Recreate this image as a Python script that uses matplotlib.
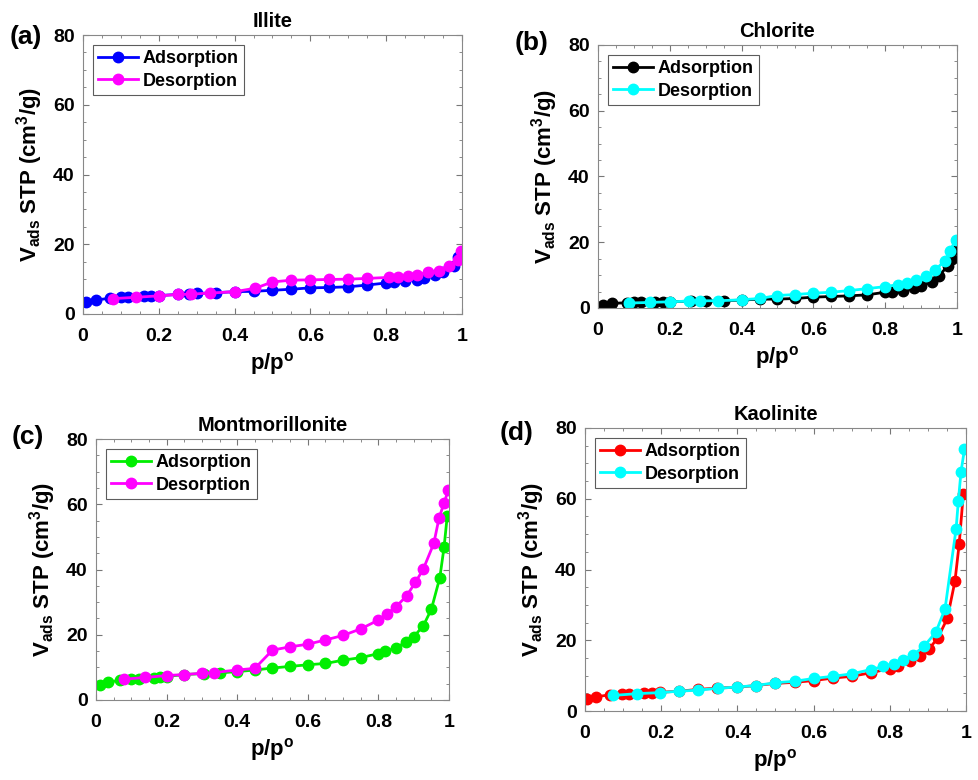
import matplotlib
matplotlib.use('Agg')
import matplotlib.pyplot as plt
from matplotlib.ticker import MultipleLocator

plt.rcParams['font.family'] = ['Liberation Sans', 'DejaVu Sans']
plt.rcParams['font.weight'] = 'bold'
plt.rcParams['mathtext.fontset'] = 'custom'
plt.rcParams['mathtext.rm'] = 'Liberation Sans:bold'
plt.rcParams['mathtext.bf'] = 'Liberation Sans:bold'
plt.rcParams['mathtext.it'] = 'Liberation Sans:bold'
plt.rcParams['mathtext.default'] = 'bf'

# Illite
ill_ads_x = [0.009, 0.033, 0.07, 0.10, 0.12, 0.16, 0.18, 0.20, 0.25, 0.28, 0.30, 0.35, 0.40, 0.45,
             0.50, 0.55, 0.60, 0.65, 0.70, 0.75, 0.80, 0.82, 0.85, 0.88, 0.90, 0.93, 0.95, 0.98, 0.99]
ill_ads_y = [3.4, 4.0, 4.5, 4.8, 4.9, 5.1, 5.2, 5.3, 5.6, 5.7, 5.9, 6.1, 6.4, 6.5,
             6.8, 7.1, 7.5, 7.6, 7.8, 8.3, 8.9, 9.2, 9.5, 9.8, 10.4, 11.1, 12.0, 13.8, 16.3]
ill_des_x = [0.998, 0.99, 0.965, 0.94, 0.91, 0.88, 0.858, 0.83, 0.807, 0.75, 0.70, 0.65, 0.60,
             0.55, 0.50, 0.455, 0.40, 0.334, 0.284, 0.25, 0.20, 0.14, 0.08]
ill_des_y = [18.2, 15.5, 13.9, 12.4, 11.9, 11.2, 11.0, 10.7, 10.5, 10.2, 10.0, 9.9, 9.8,
             9.7, 9.2, 7.4, 6.4, 6.0, 5.7, 5.6, 5.2, 4.8, 4.4]

# Chlorite
chl_ads_x = [0.015, 0.038, 0.08, 0.10, 0.12, 0.16, 0.18, 0.20, 0.26, 0.30, 0.35, 0.40, 0.45,
             0.50, 0.55, 0.60, 0.65, 0.70, 0.75, 0.80, 0.82, 0.85, 0.88, 0.90, 0.93, 0.95, 0.975, 0.986, 0.997]
chl_ads_y = [1.0, 1.4, 1.6, 1.7, 1.7, 1.9, 1.9, 1.9, 2.1, 2.1, 2.2, 2.4, 2.7,
             2.7, 2.9, 3.3, 3.5, 3.7, 4.0, 4.8, 5.0, 5.3, 6.0, 6.8, 8.0, 9.8, 12.9, 14.9, 18.0]
chl_des_x = [0.997, 0.98, 0.966, 0.94, 0.915, 0.887, 0.86, 0.835, 0.80, 0.75, 0.70, 0.65, 0.60,
             0.55, 0.50, 0.45, 0.40, 0.335, 0.284, 0.254, 0.20, 0.145, 0.085]
chl_des_y = [20.8, 17.3, 14.4, 11.6, 9.8, 8.5, 7.7, 7.1, 6.5, 5.9, 5.3, 4.8, 4.5,
             4.1, 3.8, 2.9, 2.5, 2.2, 2.2, 2.1, 1.9, 1.7, 1.5]

# Montmorillonite
mnt_ads_x = [0.011, 0.035, 0.068, 0.10, 0.123, 0.163, 0.18, 0.20, 0.25, 0.305, 0.35, 0.40, 0.45,
             0.50, 0.55, 0.60, 0.65, 0.70, 0.75, 0.80, 0.82, 0.85, 0.877, 0.90, 0.927, 0.95, 0.974, 0.986, 0.995]
mnt_ads_y = [4.7, 5.5, 6.0, 6.3, 6.5, 6.7, 6.9, 7.2, 7.8, 8.1, 8.3, 8.7, 9.2,
             9.8, 10.3, 10.8, 11.2, 12.2, 13.0, 14.2, 14.9, 16.0, 17.7, 19.4, 22.7, 27.8, 37.5, 46.8, 56.4]
mnt_des_x = [0.998, 0.986, 0.972, 0.957, 0.927, 0.905, 0.88, 0.85, 0.825, 0.80, 0.75, 0.70, 0.65,
             0.60, 0.55, 0.50, 0.45, 0.40, 0.333, 0.30, 0.25, 0.20, 0.14, 0.08]
mnt_des_y = [64.4, 60.3, 55.9, 48.0, 40.1, 36.1, 31.9, 28.6, 26.5, 24.5, 21.8, 19.8, 18.4,
             17.1, 16.3, 15.3, 9.7, 9.2, 8.4, 8.2, 7.8, 7.5, 6.9, 6.4]

# Kaolinite
kao_ads_x = [0.004, 0.029, 0.066, 0.096, 0.116, 0.156, 0.175, 0.197, 0.247, 0.297, 0.347, 0.40, 0.448,
             0.50, 0.55, 0.60, 0.65, 0.70, 0.75, 0.80, 0.822, 0.853, 0.88, 0.903, 0.926, 0.951, 0.971, 0.982, 0.993]
kao_ads_y = [3.5, 4.0, 4.6, 4.8, 4.9, 5.1, 5.2, 5.3, 5.6, 6.1, 6.5, 6.7, 7.2,
             7.8, 8.1, 8.6, 9.3, 9.8, 10.8, 12.0, 12.7, 14.2, 15.6, 17.6, 20.6, 26.2, 36.7, 47.1, 61.4]
kao_des_x = [0.996, 0.987, 0.98, 0.974, 0.945, 0.921, 0.89, 0.862, 0.834, 0.81, 0.783, 0.75, 0.70,
             0.65, 0.60, 0.55, 0.50, 0.449, 0.40, 0.348, 0.297, 0.247, 0.197, 0.136, 0.074]
kao_des_y = [74.0, 67.7, 59.5, 51.5, 28.9, 22.3, 18.3, 15.9, 14.5, 13.4, 12.6, 11.7, 10.5,
             9.8, 9.2, 8.4, 8.0, 7.2, 6.8, 6.4, 5.9, 5.6, 5.2, 4.9, 4.4]

W, H = 979, 780
fig = plt.figure(figsize=(W / 100, H / 100), dpi=100)

def px_axes(l, t, r, b):
    return fig.add_axes([l / W, 1 - b / H, (r - l) / W, (b - t) / H])

panels = [
    # left, top, right, bottom (px), title, letter, letter pos, colours, data
    ((83, 35, 462, 314), 'Illite', '(a)', (10, 37), ('#0000ff', '#ff00ff'),
     ill_ads_x, ill_ads_y, ill_des_x, ill_des_y),
    ((598, 45, 957, 308), 'Chlorite', '(b)', (515, 43), ('#000000', '#00ffff'),
     chl_ads_x, chl_ads_y, chl_des_x, chl_des_y),
    ((96, 439, 449, 700), 'Montmorillonite', '(c)', (12, 437), ('#00ee00', '#ff00ff'),
     mnt_ads_x, mnt_ads_y, mnt_des_x, mnt_des_y),
    ((585, 428, 966, 711), 'Kaolinite', '(d)', (500, 433), ('#ff0000', '#00ffff'),
     kao_ads_x, kao_ads_y, kao_des_x, kao_des_y),
]

for box, title, letter, lpos, cols, ax_x, ax_y, de_x, de_y in panels:
    ax = px_axes(*box)
    ax.plot(ax_x, ax_y, '-o', color=cols[0], lw=2, ms=7.5, label='Adsorption')
    ax.plot(de_x, de_y, '-o', color=cols[1], lw=2, ms=7.5, label='Desorption')
    ax.set_xlim(0, 1)
    ax.set_ylim(0, 80)
    ax.set_xticks([0, 0.2, 0.4, 0.6, 0.8, 1])
    ax.set_xticklabels(['0', '0.2', '0.4', '0.6', '0.8', '1'])
    ax.set_yticks([0, 20, 40, 60, 80])
    ax.xaxis.set_minor_locator(MultipleLocator(0.05))
    ax.yaxis.set_minor_locator(MultipleLocator(5))
    ax.tick_params(which='both', direction='in', top=True, right=True,
                   color='#777777', labelsize=14)
    ax.tick_params(axis='x', which='major', pad=10)
    ax.tick_params(axis='y', which='major', pad=6)
    ax.tick_params(which='major', length=4)
    ax.tick_params(which='minor', length=2)
    for s in ax.spines.values():
        s.set_color('#888888')
        s.set_linewidth(0.8)
    ax.set_title(title, fontsize=14.5, fontweight='bold', pad=6)
    ax.set_xlabel('p/p$^\\mathbf{o}$', fontsize=16, fontweight='bold', labelpad=4)
    ax.set_ylabel('V$_{ads}$ STP (cm$^3$/g)', fontsize=16, fontweight='bold', labelpad=6)
    leg = ax.legend(loc='upper left', fontsize=13, frameon=True, fancybox=False,
                    borderpad=0.3, handlelength=2.2, handletextpad=0.25,
                    labelspacing=0.3, borderaxespad=0.55)
    leg.get_frame().set_edgecolor('#333333')
    leg.get_frame().set_linewidth(0.8)
    for t in leg.get_texts():
        t.set_fontweight('bold')
    fig.text(lpos[0] / W, 1 - lpos[1] / H, letter, fontsize=19, fontweight='bold',
             ha='left', va='center')

fig.savefig('out.png', dpi=100)
